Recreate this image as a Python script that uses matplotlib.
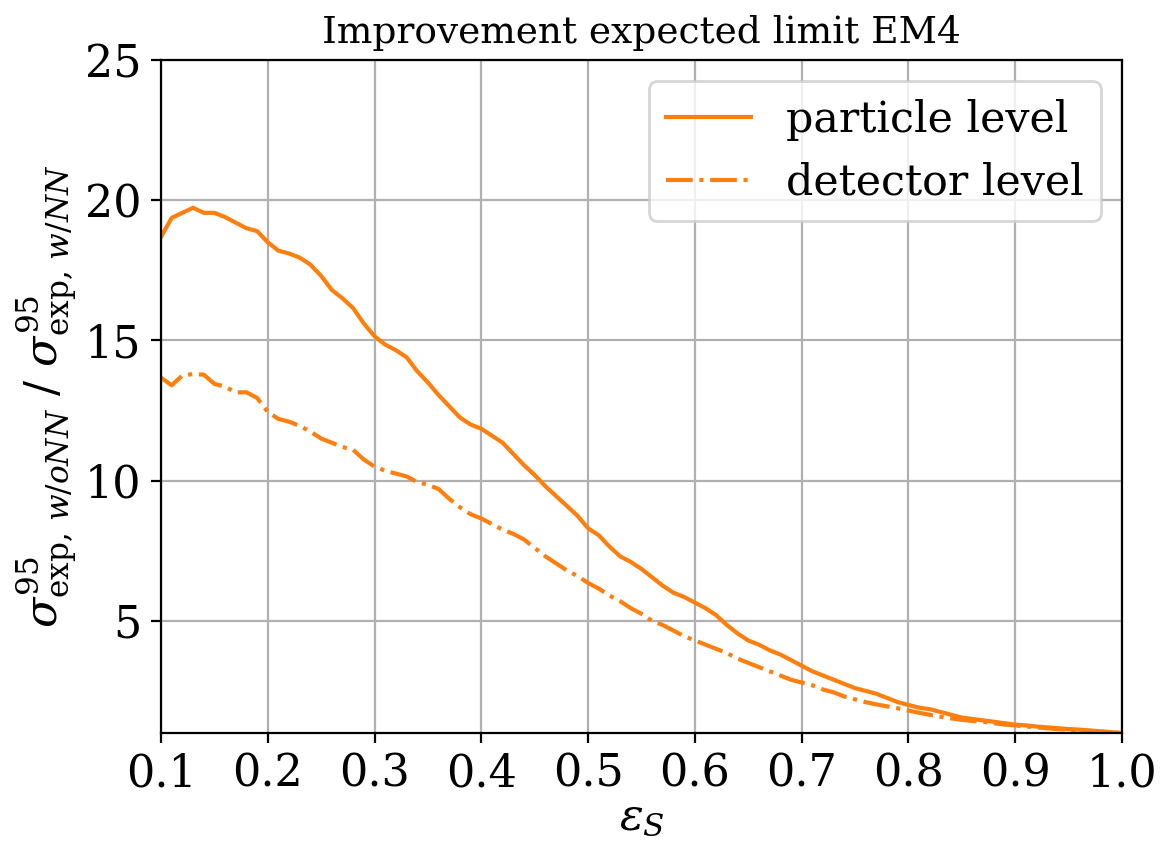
import matplotlib
matplotlib.use("Agg")
import matplotlib.pyplot as plt
import numpy as np
from matplotlib import rc

rc('font', family='DejaVu Serif')
rc('mathtext', fontset='dejavuserif')

eps_s = np.round(np.arange(0.10, 1.0001, 0.01), 2)

particle_level = [
    18.69, 19.37, 19.55, 19.73, 19.55, 19.55, 19.40, 19.20, 19.00, 18.90,
    18.50, 18.20, 18.10, 17.95, 17.70, 17.30, 16.80, 16.50, 16.15, 15.60,
    15.15, 14.85, 14.65, 14.40, 13.90, 13.50, 13.05, 12.65, 12.25, 12.00,
    11.85, 11.60, 11.35, 10.95, 10.55, 10.20, 9.80, 9.45, 9.10, 8.75,
    8.30, 8.05, 7.65, 7.30, 7.10, 6.85, 6.55, 6.25, 6.00, 5.85,
    5.65, 5.45, 5.20, 4.85, 4.55, 4.30, 4.15, 3.95, 3.80, 3.60,
    3.40, 3.20, 3.05, 2.90, 2.75, 2.60, 2.50, 2.40, 2.25, 2.10,
    2.00, 1.90, 1.85, 1.75, 1.65, 1.55, 1.50, 1.45, 1.40, 1.35,
    1.30, 1.27, 1.23, 1.20, 1.17, 1.14, 1.12, 1.09, 1.06, 1.03,
    1.00,
]

detector_level = [
    13.67, 13.40, 13.75, 13.80, 13.78, 13.45, 13.35, 13.15, 13.15, 12.95,
    12.45, 12.20, 12.10, 11.95, 11.75, 11.50, 11.35, 11.20, 11.10, 10.75,
    10.50, 10.35, 10.25, 10.15, 9.95, 9.85, 9.70, 9.35, 9.05, 8.80,
    8.65, 8.45, 8.25, 8.10, 7.90, 7.60, 7.30, 7.05, 6.80, 6.60,
    6.35, 6.15, 5.90, 5.70, 5.45, 5.25, 5.00, 4.85, 4.65, 4.45,
    4.30, 4.15, 4.00, 3.85, 3.65, 3.50, 3.35, 3.20, 3.05, 2.90,
    2.80, 2.70, 2.55, 2.45, 2.30, 2.20, 2.10, 2.02, 1.95, 1.88,
    1.80, 1.72, 1.65, 1.58, 1.52, 1.47, 1.43, 1.40, 1.35, 1.30,
    1.27, 1.23, 1.20, 1.17, 1.14, 1.12, 1.09, 1.07, 1.05, 1.02,
    1.00,
]

fig = plt.figure(figsize=(5.8, 4.215), dpi=200)
ax = fig.add_axes([0.1388, 0.1305, 0.8284, 0.7983])

ax.plot(eps_s, particle_level, color='tab:orange', lw=1.5, ls='-', label='particle level')
ax.plot(eps_s, detector_level, color='tab:orange', lw=1.5, ls='-.', label='detector level')

ax.set_xlim(0.1, 1.0)
ax.set_ylim(1.0, 25)
ax.set_xticks(np.round(np.arange(0.1, 1.01, 0.1), 1))
ax.set_yticks([5, 10, 15, 20, 25])
ax.tick_params(labelsize=16)
ax.grid(True)

ax.set_title('Improvement expected limit EM4', fontsize=13.5)
ax.set_xlabel(r'$\varepsilon_S$', fontsize=16, labelpad=0)
ax.set_ylabel(r'$\sigma^{95}_{\mathrm{exp},\, w/oNN}$ / $\sigma^{95}_{\mathrm{exp},\, w/NN}$', fontsize=16, labelpad=2)
ax.legend(loc='upper right', fontsize=15.4)

fig.savefig('out.png', dpi=200)
